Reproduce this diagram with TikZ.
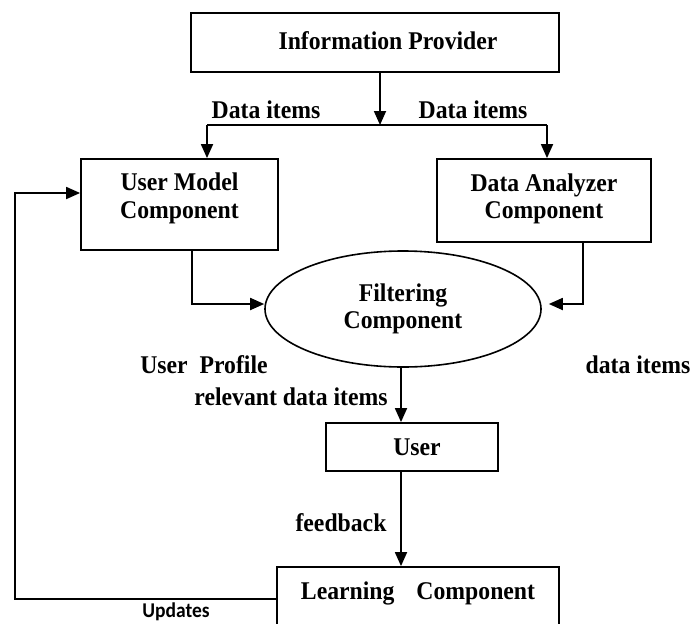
\documentclass[tikz,border=0pt]{standalone}
\usepackage{fontspec}
\setmainfont{Liberation Serif}[FakeStretch=0.93]
\newfontfamily\updfont{Carlito}[FakeStretch=0.93]
\usetikzlibrary{arrows.meta,shapes.geometric}
\begin{document}
\begin{tikzpicture}[x=1pt,y=-1pt,
  every node/.style={font=\fontsize{25.5}{27.5}\selectfont\bfseries},
  box/.style={draw, line width=1.8pt, rectangle, inner sep=0pt},
  lbl/.style={inner sep=0pt, align=center},
  txt/.style={inner sep=0pt, anchor=center},
  wire/.style={line width=1.8pt},
  arr/.style={line width=1.8pt, -{Triangle[length=14pt,width=12pt]}}]
\useasboundingbox (0,0) rectangle (692,623);
\clip (0,0) rectangle (692,623);

% components
\node[box, minimum width=368pt, minimum height=59pt,
      label={[lbl,xshift=13pt,yshift=2pt]center:Information Provider}] (ip) at (375,42.5) {};
\node[box, minimum width=197pt, minimum height=91pt,
      label={[lbl,yshift=6pt]center:User Model\\Component}] (um) at (179.5,204.5) {};
\node[box, minimum width=214pt, minimum height=83pt,
      label={[lbl,yshift=1.5pt]center:Data Analyzer\\Component}] (da) at (544,200.5) {};
\node[ellipse, draw, line width=1.6pt, minimum width=276pt, minimum height=116pt,
      inner sep=0pt, align=center] (fc) at (403,309) {Filtering\\Component};
\node[box, minimum width=172pt, minimum height=48pt,
      label={[lbl,xshift=5pt]center:User}] (us) at (412,447) {};
\node[box, minimum width=282pt, minimum height=73pt,
      label={[lbl,yshift=10.5pt]center:Learning\hspace{22pt}Component}] (lc) at (418,603.5) {};

% distribution of data items
\coordinate (split) at (380,125);
\coordinate (bl) at (207,125);
\coordinate (br) at (547,125);
\draw[arr] ([xshift=5pt]ip.south) -- (split);
\draw[wire] (bl) -- (br);
\draw[arr] (bl) -- (bl |- um.north);
\draw[arr] (br) -- (br |- da.north);

% into the filter
\draw[arr] ([xshift=12.5pt]um.south) |- ([yshift=5pt]fc.west);
\draw[arr] ([xshift=39pt]da.south) |- ([xshift=7pt,yshift=5pt]fc.east);

% down to the user and learning
\draw[arr] ([xshift=-2pt]fc.south) -- ([xshift=-2pt]fc.south |- us.north);
\draw[arr] ([xshift=-11pt]us.south) -- ([xshift=-11pt]us.south |- lc.north);

% feedback loop
\coordinate (loop) at (15,599);
\draw[arr] ([yshift=4.5pt]lc.west) -- (loop) |- ([yshift=11.5pt]um.west);

% labels
\node[txt] (d1) at (266,110) {Data items};
\node[txt] (d2) at (473,110) {Data items};
\node[txt] (up) at (204,365) {User\hspace{6pt} Profile};
\node[txt] (d3) at (638,365) {data items};
\node[txt] (rd) at (291,397) {relevant data items};
\node[txt] (fb) at (341,523) {feedback};
\node[txt, font=\updfont\fontsize{21}{24}\selectfont\bfseries] (ud) at (176,611.5) {Updates};
\end{tikzpicture}
\end{document}
